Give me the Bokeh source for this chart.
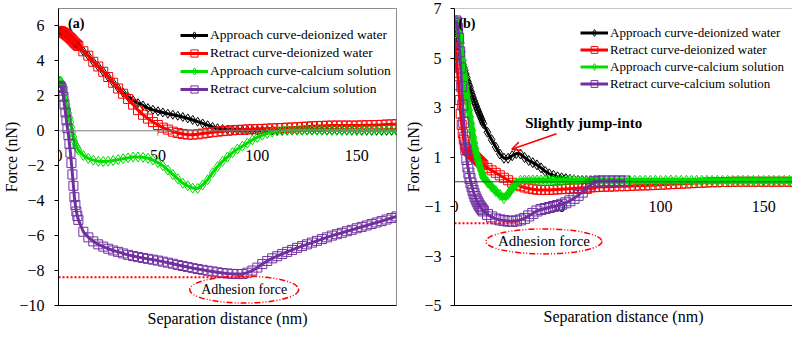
from bokeh.plotting import figure
from bokeh.layouts import row
from bokeh.models import (Range1d, FixedTicker, Span, Legend, LegendItem, Arrow,
                          OpenHead, Label)
from bokeh.core.properties import value
from bokeh.embed import file_html
from bokeh.resources import INLINE

FONT = "'Liberation Serif', 'Times New Roman', serif"

# ---------------- Panel (a) data ----------------
XA = [i * 0.5 for i in range(21)] + [12.5 + 2.5 * i for i in range(64)]

BLACK_A = [5.72, 5.71, 5.70, 5.68, 5.65, 5.62, 5.58, 5.54, 5.50, 5.45,
           5.40, 5.35, 5.30, 5.24, 5.18, 5.12, 5.05, 5.00, 4.95, 4.90, 4.85,
           4.55, 4.30, 3.95, 3.68, 3.38, 3.08, 2.76, 2.45, 2.18, 1.94,
           1.75, 1.58, 1.45, 1.30, 1.20, 1.12, 1.05, 0.98, 0.92, 0.86,
           0.79, 0.71, 0.62, 0.52, 0.42, 0.32, 0.22, 0.15, 0.10, 0.07,
           0.05, 0.04, 0.03, 0.03, 0.03, 0.03, 0.02, 0.02, 0.02, 0.02,
           0.02, 0.02, 0.02, 0.02, 0.02, 0.02, 0.02, 0.02, 0.02, 0.02,
           0.02, 0.02, 0.02, 0.02, 0.02, 0.02, 0.02, 0.02, 0.02, 0.02,
           0.02, 0.02, 0.02, 0.02]
RED_A = [5.72, 5.71, 5.70, 5.68, 5.65, 5.62, 5.58, 5.54, 5.50, 5.45,
         5.40, 5.35, 5.30, 5.24, 5.18, 5.12, 5.05, 5.00, 4.95, 4.90, 4.85,
         4.55, 4.30, 3.95, 3.68, 3.38, 3.08, 2.75, 2.42, 2.12, 1.82,
         1.50, 1.18, 0.92, 0.70, 0.50, 0.33, 0.18, 0.07, -0.05, -0.13,
         -0.18, -0.22, -0.22, -0.20, -0.16, -0.12, -0.08, -0.05, -0.02, 0.00,
         0.03, 0.05, 0.06, 0.08, 0.09, 0.10, 0.11, 0.12, 0.14, 0.15,
         0.16, 0.18, 0.19, 0.20, 0.22, 0.24, 0.26, 0.27, 0.28, 0.29,
         0.30, 0.30, 0.30, 0.30, 0.30, 0.30, 0.31, 0.32, 0.32, 0.33,
         0.34, 0.36, 0.37, 0.38]
GREEN_A = [2.80, 2.85, 2.85, 2.75, 2.60, 2.38, 2.10, 1.80, 1.50, 1.25,
           1.00, 0.75, 0.50, 0.20, -0.10, -0.35, -0.60, -0.77, -0.90, -1.00, -1.10,
           -1.42, -1.58, -1.68, -1.75, -1.76, -1.74, -1.70, -1.65, -1.60, -1.55,
           -1.50, -1.50, -1.52, -1.57, -1.67, -1.82, -2.00, -2.25, -2.50, -2.75,
           -3.00, -3.15, -3.28, -3.30, -3.10, -2.80, -2.40, -2.05, -1.75, -1.50,
           -1.25, -1.05, -0.88, -0.70, -0.52, -0.38, -0.25, -0.15, -0.07, -0.02,
           0.00, 0.02, 0.03, 0.03, 0.03, 0.03, 0.03, 0.03, 0.03, 0.02,
           0.02, 0.02, 0.02, 0.02, 0.02, 0.02, 0.01, 0.01, 0.01, 0.00,
           0.00, 0.00, 0.00, 0.00]
PURPLE_A = [2.50, 2.55, 2.55, 2.45, 2.30, 1.95, 1.50, 1.05, 0.60, 0.15,
            -0.25, -0.75, -1.25, -1.85, -2.50, -3.15, -3.80, -4.25, -4.62, -4.88, -5.10,
            -5.78, -6.10, -6.33, -6.50, -6.63, -6.75, -6.85, -6.93, -7.02, -7.10,
            -7.17, -7.23, -7.28, -7.33, -7.38, -7.43, -7.49, -7.55, -7.61, -7.68,
            -7.74, -7.80, -7.86, -7.91, -7.96, -8.01, -8.05, -8.10, -8.14, -8.17,
            -8.19, -8.20, -8.20, -8.12, -8.00, -7.83, -7.63, -7.45, -7.30, -7.18,
            -7.05, -6.93, -6.82, -6.70, -6.60, -6.50, -6.40, -6.30, -6.20, -6.10,
            -6.00, -5.92, -5.84, -5.75, -5.67, -5.58, -5.50, -5.42, -5.33, -5.25,
            -5.17, -5.08, -4.99, -4.90]

# ---------------- Panel (b) data ----------------
XB = [i * 0.5 for i in range(29)] + [16 + 2 * i for i in range(28)] + [72.5 + 2.5 * i for i in range(38)]

BLACK_B = [6.30, 6.35, 6.10, 5.80, 5.50, 5.25, 5.05, 4.90, 4.75, 4.62,
           4.50, 4.35, 4.20, 4.05, 3.92, 3.80, 3.65, 3.52, 3.40, 3.28,
           3.17, 3.06, 2.95, 2.85, 2.75, 2.65, 2.55, 2.45, 2.35,
           2.00, 1.70, 1.40, 1.12, 0.95, 0.95, 1.05, 1.14, 1.12, 0.98,
           0.86, 0.77, 0.68, 0.56, 0.42, 0.32, 0.26, 0.20, 0.16, 0.13,
           0.10, 0.08, 0.06, 0.05, 0.05, 0.04, 0.04, 0.04]
RED_B = [5.80, 5.40, 4.90, 4.40, 3.90, 3.30, 2.75, 2.30, 1.95, 1.70,
         1.50, 1.38, 1.30, 1.25, 1.22, 1.19, 1.16, 1.12, 1.08, 1.04,
         1.00, 0.96, 0.92, 0.88, 0.84, 0.80, 0.76, 0.72, 0.68,
         0.56, 0.46, 0.36, 0.26, 0.16, 0.06, -0.04, -0.12, -0.18, -0.23,
         -0.27, -0.30, -0.32, -0.33, -0.33, -0.33, -0.32, -0.31, -0.30, -0.29,
         -0.28, -0.27, -0.26, -0.25, -0.24, -0.23, -0.22, -0.21,
         -0.20, -0.20, -0.19, -0.18, -0.18, -0.17, -0.16, -0.15, -0.15, -0.14,
         -0.13, -0.12, -0.11, -0.10, -0.09, -0.08, -0.07, -0.06, -0.05, -0.04,
         -0.03, -0.02, -0.02, -0.01, -0.01, 0.00, 0.00, 0.00, 0.00, 0.00,
         0.00, 0.00, 0.00, 0.00, 0.00, 0.00, 0.00, 0.00]
GREEN_B = [6.30, 6.45, 6.50, 6.40, 6.20, 5.90, 5.60, 5.25, 4.90, 4.55,
           4.20, 3.85, 3.50, 3.20, 2.90, 2.62, 2.35, 2.08, 1.80, 1.57,
           1.35, 1.17, 1.00, 0.85, 0.70, 0.57, 0.45, 0.30, 0.18,
           -0.02, -0.20, -0.38, -0.53, -0.66, -0.50, -0.27, -0.07, 0.04, 0.05,
           0.05, 0.05, 0.05, 0.05, 0.05, 0.05, 0.05, 0.05, 0.05, 0.05,
           0.05, 0.05, 0.05, 0.05, 0.05, 0.05, 0.05, 0.05,
           0.04, 0.04, 0.04, 0.04, 0.04, 0.04, 0.04, 0.04, 0.04, 0.04,
           0.04, 0.04, 0.04, 0.05, 0.04, 0.04, 0.04, 0.04, 0.04, 0.04,
           0.04, 0.04, 0.04, 0.04, 0.04, 0.04, 0.04, 0.04, 0.04, 0.04,
           0.04, 0.04, 0.04, 0.04, 0.04, 0.04, 0.04, 0.04]
PURPLE_B = [6.40, 6.50, 6.45, 6.20, 5.80, 5.25, 4.60, 3.85, 3.10, 2.40,
            1.80, 1.30, 0.90, 0.60, 0.35, 0.13, -0.05, -0.20, -0.35, -0.48,
            -0.60, -0.70, -0.79, -0.87, -0.95, -1.01, -1.07, -1.13, -1.18,
            -1.32, -1.42, -1.50, -1.54, -1.57, -1.59, -1.60, -1.58, -1.54, -1.48,
            -1.38, -1.28, -1.18, -1.12, -1.08, -1.04, -1.00, -0.96, -0.91, -0.85,
            -0.77, -0.67, -0.55, -0.42, -0.27, -0.12, 0.00, 0.03,
            0.03, 0.03, 0.03, 0.03, 0.03]

LABELS = ["Approach curve-deionized water", "Retract curve-deionized water",
          "Approach curve-calcium solution", "Retract curve-calcium solution"]
COLORS = ["#000000", "#FF0000", "#00DD00", "#7030A0"]
MARKERS = ["diamond", "square", "diamond", "square"]
MARKER_SIZES_A = [9, 9, 10, 9]
MARKER_SIZES_B = [10, 9, 11, 10]

YTICKS_A = [-10, -8, -6, -4, -2, 0, 2, 4, 6]
YTICKS_B = [-5, -3, -1, 1, 3, 5, 7]
XTICKS = [0, 50, 100, 150]

# annotations
ADH_A_X = [0, 97]
ADH_A_Y = -8.38
ADH_A_TXT = (93.4, -9.09)
ADH_B_X = [0, 31.6]
ADH_B_Y = -1.68
ADH_B_TXT = (43.4, -2.41)
JUMP_TXT = (62.7, 2.39)
JUMP_ARROW = (49.5, 1.94, 27.8, 1.31)


def style_axes(p, yticks, ylabel_standoff, xlabel_standoff, tick_standoff):
    p.xgrid.visible = False
    p.ygrid.visible = False
    xa = p.xaxis[0]
    xa.ticker = FixedTicker(ticks=[])
    xa.major_tick_out = 0
    xa.major_tick_in = 0
    xa.minor_tick_out = 0
    xa.minor_tick_in = 0
    xa.major_label_standoff = 0
    xa.axis_line_color = "black"
    xa.axis_label = "Separation distance (nm)"
    xa.axis_label_text_font = FONT
    xa.axis_label_text_font_size = "16px"
    xa.axis_label_text_font_style = "normal"
    xa.axis_label_text_color = "black"
    xa.axis_label_standoff = xlabel_standoff
    ya = p.yaxis[0]
    ya.ticker = FixedTicker(ticks=yticks)
    ya.major_tick_out = 4
    ya.major_tick_in = 0
    ya.minor_tick_out = 0
    ya.minor_tick_in = 0
    ya.axis_line_color = "black"
    ya.major_tick_line_color = "black"
    ya.major_label_standoff = tick_standoff
    ya.major_label_text_font = FONT
    ya.major_label_text_font_size = "16px"
    ya.major_label_text_color = "black"
    ya.axis_label = "Force (nN)"
    ya.axis_label_text_font = FONT
    ya.axis_label_text_font_size = "16px"
    ya.axis_label_text_font_style = "normal"
    ya.axis_label_text_color = "black"
    ya.axis_label_standoff = ylabel_standoff


def add_series(p, xs_list, ys_list, sizes, thick_green=False):
    items = []
    for i in range(4):
        xs = xs_list[i]
        ys = ys_list[i]
        if thick_green and i == 2:
            p.line(xs, ys, line_color=COLORS[i], line_width=6)
        ln = p.line(xs, ys, line_color=COLORS[i], line_width=3)
        sc = p.scatter(xs, ys, marker=MARKERS[i], size=sizes[i], line_color=COLORS[i],
                       fill_color=None, line_width=1)
        items.append(LegendItem(label=LABELS[i], renderers=[ln, sc]))
    return items


def add_xtick_labels(p, zero_color, tick_len):
    p.add_layout(Span(location=0, dimension="width", line_color=zero_color, line_width=1))
    tk = [t for t in XTICKS if t != 0]
    p.segment(x0=tk, y0=[0] * len(tk), x1=tk, y1=[-tick_len] * len(tk),
              line_color=zero_color, line_width=1)
    p.text(x=XTICKS, y=[0] * len(XTICKS), text=[str(t) for t in XTICKS],
           text_font=value(FONT), text_font_size=value("16px"), text_color="black",
           text_align="center", text_baseline="middle", y_offset=25)


def make_legend(items, loc, row_h, fsize):
    return Legend(items=items, location=loc, label_text_font=FONT,
                  label_text_font_size=fsize, label_text_color="black",
                  label_height=row_h, glyph_height=row_h, glyph_width=28,
                  label_standoff=2, spacing=0, padding=0, margin=0,
                  border_line_color=None, background_fill_alpha=0)


# ---------------- figure (a) ----------------
pa = figure(width=402, height=329, x_range=Range1d(0, 170), y_range=Range1d(-10, 7),
            output_backend="svg", toolbar_location=None,
            min_border_left=50, min_border_right=6, min_border_top=8, min_border_bottom=23)
pa.outline_line_color = "#8c8c8c"
style_axes(pa, YTICKS_A, -4, 4, 10)
add_xtick_labels(pa, "#7f7f7f", 0.28)
items_a = add_series(pa, [XA] * 4, [BLACK_A, RED_A, GREEN_A, PURPLE_A], MARKER_SIZES_A)
pa.line(ADH_A_X, [ADH_A_Y] * 2, line_color="red", line_width=2, line_dash="2 2")
pa.ellipse(x=[ADH_A_TXT[0]], y=[ADH_A_TXT[1]], width=109, height=27,
           width_units="screen", height_units="screen", fill_color=None,
           line_color="red", line_width=1.5, line_dash="6 2 1 2 1 2")
pa.text(x=[ADH_A_TXT[0]], y=[ADH_A_TXT[1]], text=["Adhesion force"],
        text_font=value(FONT), text_font_size=value("14px"), text_color="black",
        text_align="center", text_baseline="middle")
pa.add_layout(Label(x=4.8, y=6.17, text="(a)", text_font=FONT, text_font_style="bold",
                    text_font_size="14px", text_baseline="middle", text_color="black"))
pa.add_layout(make_legend(items_a, (122, 207), 18, "13.5px"))

# ---------------- figure (b) ----------------
pb = figure(width=390, height=329, x_range=Range1d(0, 164), y_range=Range1d(-5, 7),
            output_backend="svg", toolbar_location=None,
            min_border_left=43, min_border_right=0, min_border_top=8, min_border_bottom=20)
pb.outline_line_color = None
pb.add_layout(Span(location=7, dimension="width", line_color="#8c8c8c", line_width=1))
style_axes(pb, YTICKS_B, -1, 2, 9)
add_xtick_labels(pb, "#404040", 0.2)
items_b = add_series(pb, [XB[:57], XB, XB, XB[:62]],
                     [BLACK_B, RED_B, GREEN_B, PURPLE_B], MARKER_SIZES_B, thick_green=True)
pb.line(ADH_B_X, [ADH_B_Y] * 2, line_color="red", line_width=2, line_dash="2 2")
pb.ellipse(x=[ADH_B_TXT[0]], y=[ADH_B_TXT[1]], width=116, height=25,
           width_units="screen", height_units="screen", fill_color=None,
           line_color="red", line_width=1.5, line_dash="6 2 1 2 1 2")
pb.text(x=[ADH_B_TXT[0]], y=[ADH_B_TXT[1]], text=["Adhesion force"],
        text_font=value(FONT), text_font_size=value("15px"), text_color="black",
        text_align="center", text_baseline="middle")
pb.text(x=[JUMP_TXT[0]], y=[JUMP_TXT[1]], text=["Slightly jump-into"],
        text_font=value(FONT), text_font_size=value("15px"), text_font_style="bold",
        text_color="black", text_align="center", text_baseline="middle")
pb.add_layout(Arrow(end=OpenHead(size=9, line_color="red", line_width=1.5),
                    x_start=JUMP_ARROW[0], y_start=JUMP_ARROW[1],
                    x_end=JUMP_ARROW[2], y_end=JUMP_ARROW[3],
                    line_color="red", line_width=1.5))
pb.add_layout(Label(x=1.9, y=6.4, text="(b)", text_font=FONT, text_font_style="bold",
                    text_font_size="14px", text_baseline="middle", text_color="black"))
pb.add_layout(make_legend(items_b, (126, 213), 17, "13px"))

layout = row(pa, pb)
open("out.html", "w").write(file_html(layout, INLINE, "Force curves"))
